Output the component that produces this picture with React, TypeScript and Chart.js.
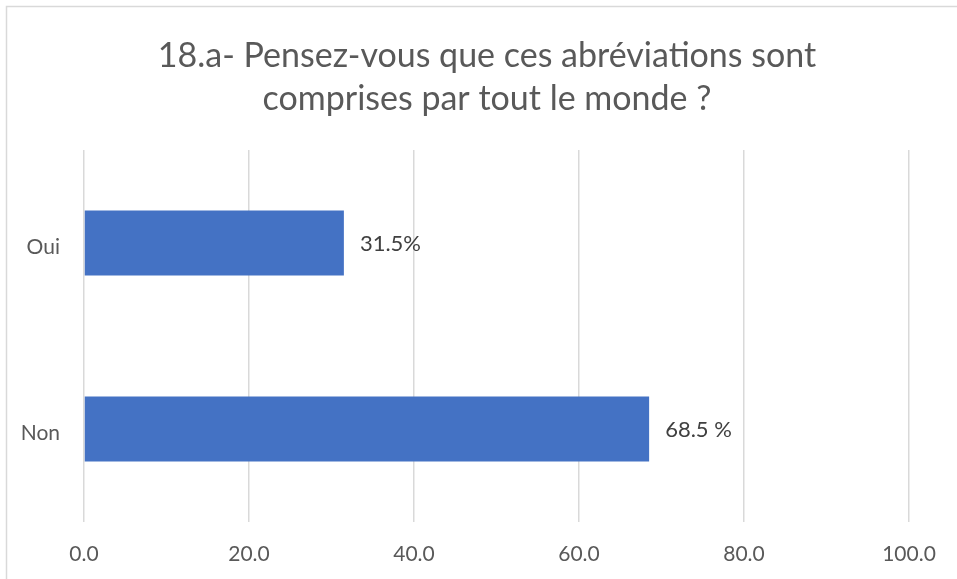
import React, { useEffect, useRef } from "react";
import { Chart, registerables } from "chart.js";

Chart.register(...registerables);

const titleLines = ["18.a- Pensez-vous que ces abréviations sont", "comprises par tout le monde ?"];
const categories = ["Oui", "Non"];
const values = [31.5, 68.5];
const valueLabels = ["31.5%", "68.5 %"];
const axisMin = 0;
const axisMax = 100;
const axisStep = 20;

const FONT = "Lato, 'Open Sans', sans-serif";

const framePlugin = {
  id: "frame",
  beforeDraw(chart: any) {
    const ctx = chart.ctx;
    ctx.save();
    ctx.fillStyle = "#ffffff";
    ctx.fillRect(0, 0, chart.width, chart.height);
    ctx.strokeStyle = "#d9d9d9";
    ctx.lineWidth = 1.5;
    ctx.beginPath();
    ctx.moveTo(6.5, chart.height + 5);
    ctx.lineTo(6.5, 6.5);
    ctx.lineTo(chart.width + 5, 6.5);
    ctx.stroke();
    ctx.restore();
  },
};

const titlePlugin = {
  id: "chartTitle",
  afterDraw(chart: any) {
    const ctx = chart.ctx;
    ctx.save();
    ctx.font = `34px ${FONT}`;
    ctx.fillStyle = "#595959";
    ctx.textAlign = "center";
    ctx.textBaseline = "middle";
    titleLines.forEach((line, i) => {
      ctx.fillText(line, 487, 56 + i * 43);
    });
    ctx.restore();
  },
};

const labelPlugin = {
  id: "barLabels",
  afterDatasetsDraw(chart: any) {
    const ctx = chart.ctx;
    const meta = chart.getDatasetMeta(0);
    ctx.save();
    ctx.font = `22px ${FONT}`;
    ctx.fillStyle = "#404040";
    ctx.textAlign = "left";
    ctx.textBaseline = "middle";
    meta.data.forEach((bar: any, i: number) => {
      ctx.fillText(valueLabels[i], bar.x + 16, bar.y + 1);
    });
    ctx.restore();
  },
};

export default function App() {
  const ref = useRef<HTMLCanvasElement>(null);
  useEffect(() => {
    if (!ref.current) return;
    const chart = new Chart(ref.current, {
      type: "bar",
      data: {
        labels: categories,
        datasets: [
          {
            data: values,
            backgroundColor: "#4472C4",
            barPercentage: 0.35,
            categoryPercentage: 1,
          },
        ],
      },
      options: {
        indexAxis: "y",
        animation: false,
        responsive: false,
        devicePixelRatio: 1,
        layout: { padding: { left: 0, right: 48, top: 150, bottom: 0 } },
        plugins: {
          legend: { display: false },
          tooltip: { enabled: false },
          title: { display: false },
        },
        scales: {
          x: {
            min: axisMin,
            max: axisMax,
            ticks: {
              stepSize: axisStep,
              color: "#595959",
              font: { family: FONT, size: 21 },
              padding: 20,
              callback: (v: any) => Number(v).toFixed(1),
            },
            grid: { color: "#d9d9d9", lineWidth: 1.5, drawTicks: false },
            border: { display: false },
            afterFit: (s: any) => {
              s.height = 57;
            },
          },
          y: {
            ticks: {
              color: "#595959",
              font: { family: FONT, size: 21 },
              padding: 24,
              labelOffset: 4,
            },
            grid: { display: false, drawTicks: false },
            border: { display: false },
            afterFit: (s: any) => {
              s.width = 84;
            },
          },
        },
      },
      plugins: [framePlugin, titlePlugin, labelPlugin],
    });
    return () => chart.destroy();
  }, []);
  return (
    <div style={{ position: "fixed", left: 0, top: 0, width: 957, height: 579 }}>
      <canvas ref={ref} width={957} height={579} style={{ display: "block" }} />
    </div>
  );
}
